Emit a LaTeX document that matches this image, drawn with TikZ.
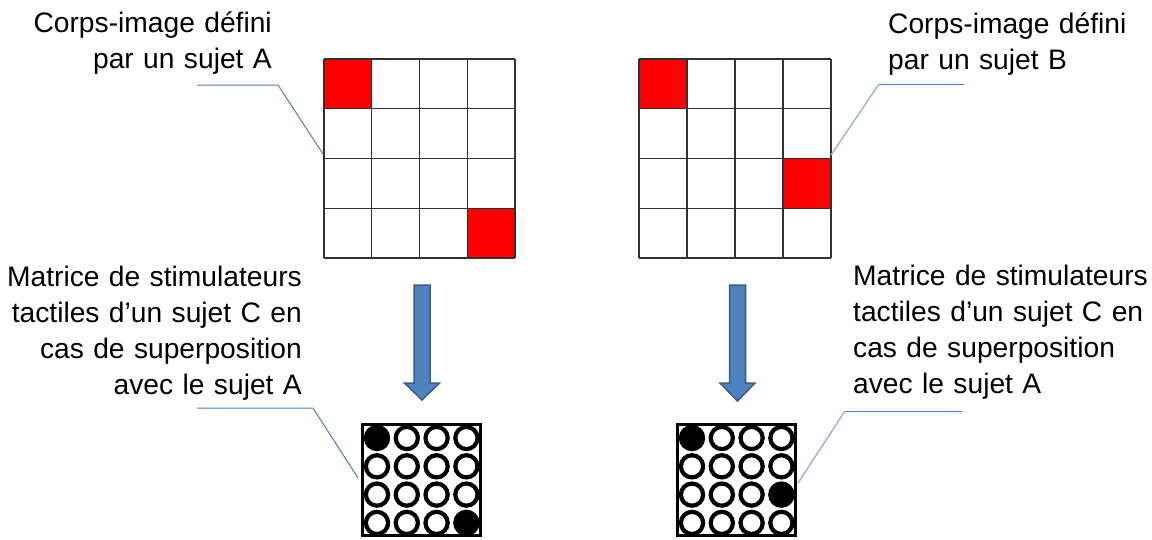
\documentclass[tikz,border=0pt]{standalone}
\usepackage{fontspec}
\setmainfont{Liberation Sans}
\usepackage{tikz}
\usetikzlibrary{calc}

\definecolor{cellred}{RGB}{255,0,0}
\definecolor{gridgray}{RGB}{50,50,50}
\definecolor{arrowfill}{RGB}{79,129,189}
\definecolor{arrowedge}{RGB}{56,93,138}
\definecolor{calloutblue}{RGB}{74,126,187}
\definecolor{calloutlight}{RGB}{142,180,227}

\tikzset{
    label/.style={inner sep=0pt, text width=340pt, font={\fontsize{28.2}{36}\selectfont}},
    callout/.style={calloutblue, line width=1pt},
    calloutsketch/.style={calloutlight, line width=1.4pt},
    downarrow/.style={fill=arrowfill, draw=arrowedge, line width=1.5pt, line join=miter},
    stim/.style={draw=black, line width=4.2pt},
}

\begin{document}
\begin{tikzpicture}[x=1pt, y=-1pt]
    \useasboundingbox (0,0) rectangle (1152,539);

    % texts
    \node[label, align=right, anchor=base east] (lblA) at (272,32) {Corps-image défini\\par un sujet A};
    \node[label, align=left, anchor=base west] (lblB) at (888,33) {Corps-image défini\\par un sujet B};
    \node[label, align=right, anchor=base east] (lblCA) at (302,286)
        {Matrice de stimulateurs\\tactiles d’un sujet C en\\cas de superposition\\avec le sujet A};
    \node[label, align=left, anchor=base west] (lblCB) at (853,285)
        {Matrice de stimulateurs\\tactiles d’un sujet C en\\cas de superposition\\avec le sujet A};

    % body-image grids
    \foreach \gx/\gw/\rx/\ry [count=\k] in {324/47.75/3/3, 639/48/3/2} {
        \fill[cellred] (\gx,59) rectangle ++(\gw,49.75);
        \fill[cellred] ({\gx+\rx*\gw},{59+\ry*49.75}) rectangle ++(\gw,49.75);
        \foreach \i in {0,...,4} {
            \draw[gridgray, line width=1.4pt] ({\gx+\i*\gw},59) -- ++(0,199);
            \draw[gridgray, line width=1.4pt] (\gx,{59+\i*49.75}) -- ++({4*\gw},0);
        }
        \coordinate (grid\k) at (\gx,59);
    }

    % arrows
    \foreach \cx/\tip in {422/400, 737.5/401} {
        \draw[downarrow] (\cx-8,285) -- (\cx+8,285) -- (\cx+8,383) -- (\cx+17.5,383)
            -- (\cx,\tip) -- (\cx-17.5,383) -- (\cx-8,383) -- cycle;
    }

    % stimulator matrices
    \foreach \bx/\fa/\fb in {361/0/15, 676/0/11} {
        \draw[black, line width=3pt] (\bx+1.5,424.5) rectangle (\bx+119.5,535.5);
        \foreach \j in {0,...,3} {
            \foreach \i in {0,...,3} {
                \pgfmathtruncatemacro{\n}{4*\j+\i}
                \ifnum\n=\fa \def\stimfill{black}\else\ifnum\n=\fb \def\stimfill{black}\else\def\stimfill{white}\fi\fi
                \draw[stim, fill=\stimfill] ({\bx+16+\i*29.8},{438+\j*28.3}) circle (11.1);
            }
        }
    }

    % callouts
    \coordinate (cA1) at (197,85);
    \coordinate (cA2) at (278,85);
    \coordinate (cA3) at (323,154);
    \draw[callout] (cA1) -- (cA2) -- (cA3);

    \coordinate (cB1) at (964,84);
    \coordinate (cB2) at (879,84);
    \coordinate (cB3) at (831,155);
    \draw[callout] (cB1) -- (cB2);
    \draw[calloutsketch] (cB2) -- (cB3);

    \coordinate (cC1) at (197,408);
    \coordinate (cC2) at (313,408);
    \coordinate (cC3) at (358,478);
    \draw[callout] (cC1) -- (cC2) -- (cC3);

    \coordinate (cD1) at (962,411);
    \coordinate (cD2) at (845,411);
    \coordinate (cD3) at (798,483);
    \draw[callout] (cD1) -- (cD2);
    \draw[calloutsketch] (cD2) -- (cD3);
\end{tikzpicture}
\end{document}
